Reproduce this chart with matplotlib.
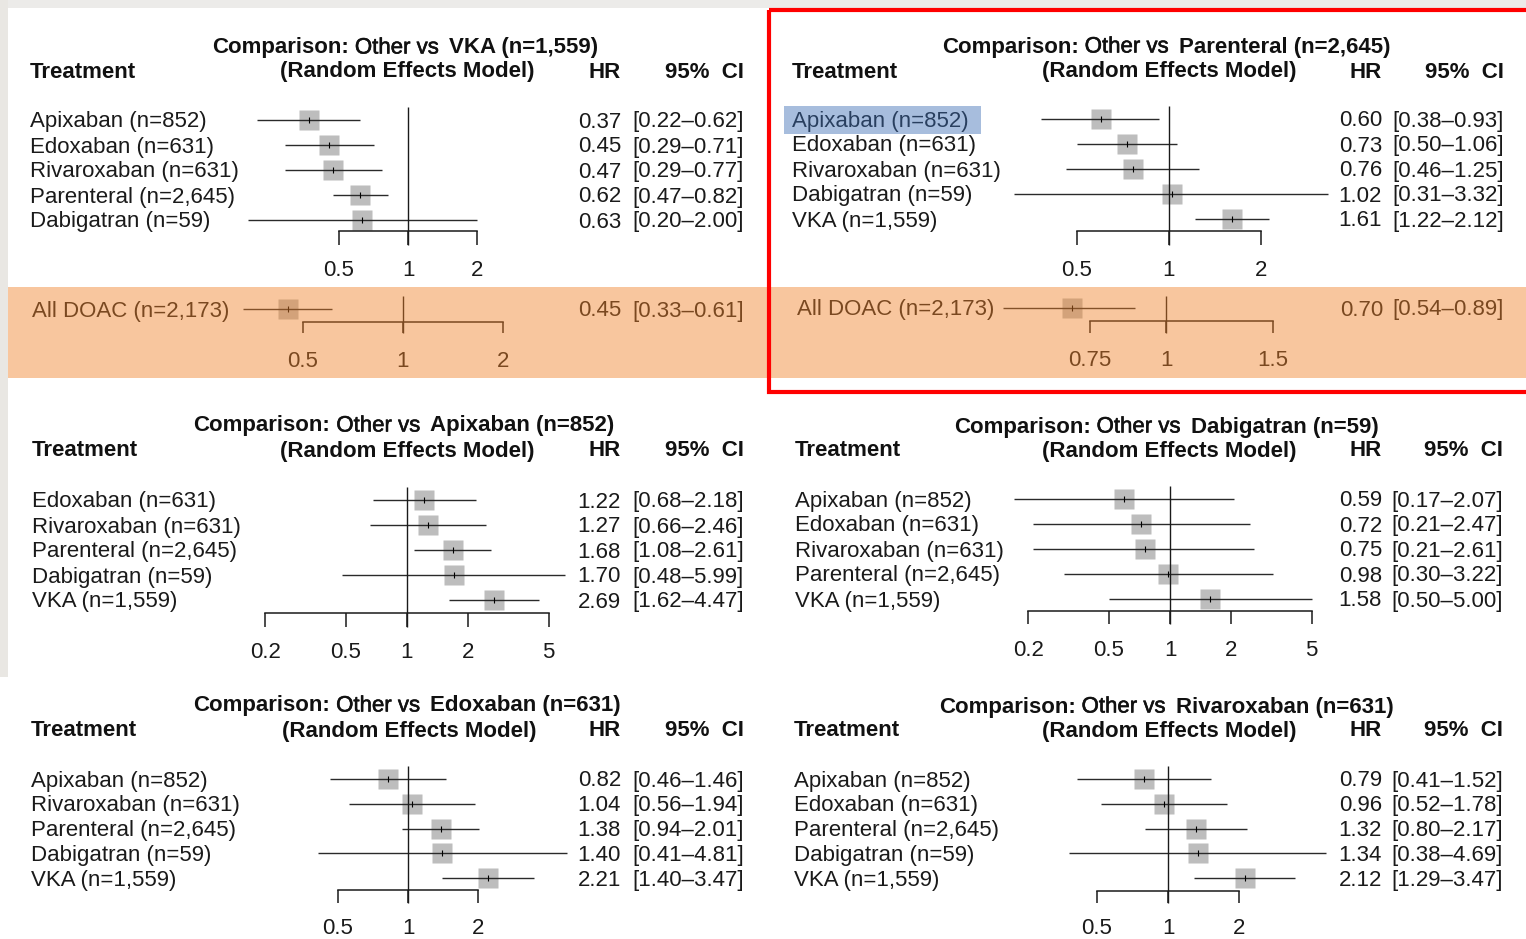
import matplotlib
matplotlib.use('Agg')
import numpy as np
import matplotlib.pyplot as plt
import matplotlib.patches as patches
import matplotlib.patheffects as pe
from matplotlib.ticker import NullLocator

W, H = 1526, 939
plt.rcParams['font.family'] = ['Liberation Sans', 'DejaVu Sans']

# ---- data (hazard ratios, 95% CI) ----
vka_ref = 'VKA (n=1,559)'
vka_labels = ['Apixaban (n=852)', 'Edoxaban (n=631)', 'Rivaroxaban (n=631)', 'Parenteral (n=2,645)', 'Dabigatran (n=59)']
vka_hr = [0.37, 0.45, 0.47, 0.62, 0.63]
vka_lo = [0.22, 0.29, 0.29, 0.47, 0.20]
vka_hi = [0.62, 0.71, 0.77, 0.82, 2.00]
vka_ticks = [0.5, 1, 2]

par_ref = 'Parenteral (n=2,645)'
par_labels = ['Apixaban (n=852)', 'Edoxaban (n=631)', 'Rivaroxaban (n=631)', 'Dabigatran (n=59)', 'VKA (n=1,559)']
par_hr = [0.60, 0.73, 0.76, 1.02, 1.61]
par_lo = [0.38, 0.50, 0.46, 0.31, 1.22]
par_hi = [0.93, 1.06, 1.25, 3.32, 2.12]
par_ticks = [0.5, 1, 2]

api_ref = 'Apixaban (n=852)'
api_labels = ['Edoxaban (n=631)', 'Rivaroxaban (n=631)', 'Parenteral (n=2,645)', 'Dabigatran (n=59)', 'VKA (n=1,559)']
api_hr = [1.22, 1.27, 1.68, 1.70, 2.69]
api_lo = [0.68, 0.66, 1.08, 0.48, 1.62]
api_hi = [2.18, 2.46, 2.61, 5.99, 4.47]
api_ticks = [0.2, 0.5, 1, 2, 5]

dab_ref = 'Dabigatran (n=59)'
dab_labels = ['Apixaban (n=852)', 'Edoxaban (n=631)', 'Rivaroxaban (n=631)', 'Parenteral (n=2,645)', 'VKA (n=1,559)']
dab_hr = [0.59, 0.72, 0.75, 0.98, 1.58]
dab_lo = [0.17, 0.21, 0.21, 0.30, 0.50]
dab_hi = [2.07, 2.47, 2.61, 3.22, 5.00]
dab_ticks = [0.2, 0.5, 1, 2, 5]

edo_ref = 'Edoxaban (n=631)'
edo_labels = ['Apixaban (n=852)', 'Rivaroxaban (n=631)', 'Parenteral (n=2,645)', 'Dabigatran (n=59)', 'VKA (n=1,559)']
edo_hr = [0.82, 1.04, 1.38, 1.40, 2.21]
edo_lo = [0.46, 0.56, 0.94, 0.41, 1.40]
edo_hi = [1.46, 1.94, 2.01, 4.81, 3.47]
edo_ticks = [0.5, 1, 2]

riv_ref = 'Rivaroxaban (n=631)'
riv_labels = ['Apixaban (n=852)', 'Edoxaban (n=631)', 'Parenteral (n=2,645)', 'Dabigatran (n=59)', 'VKA (n=1,559)']
riv_hr = [0.79, 0.96, 1.32, 1.34, 2.12]
riv_lo = [0.41, 0.52, 0.80, 0.38, 1.29]
riv_hi = [1.52, 1.78, 2.17, 4.69, 3.47]
riv_ticks = [0.5, 1, 2]

doac_label = 'All DOAC (n=2,173)'
doac_hr = [0.45, 0.70]
doac_lo = [0.33, 0.54]
doac_hi = [0.61, 0.89]
doac_ticks = [[0.5, 1, 2], [0.75, 1, 1.5]]

FS = 16
TXT = '#1a1a1a'
DY = 2  # vertical nudge of text (px)

fig = plt.figure(figsize=(W / 100, H / 100), dpi=100)
fig.patch.set_facecolor('white')
bg = fig.add_axes([0, 0, 1, 1], zorder=-1)
bg.set_xlim(0, W)
bg.set_ylim(H, 0)
bg.axis('off')
# screenshot edges
bg.add_patch(patches.Rectangle((0, 0), W, 8, color='#ecebe9', lw=0))
bg.add_patch(patches.Rectangle((0, 0), 8, 677, color='#e9e7e3', lw=0))

renderer = fig.canvas.get_renderer()


def tick_str(t):
    return ('%g' % t)


def make_ax(c, k, y0, dy, ytop, ybot, half=210):
    xl, xr = c - half, c + half
    ax = fig.add_axes([xl / W, 1 - ybot / H, (xr - xl) / W, (ybot - ytop) / H], zorder=0)
    ax.set_xscale('log', base=2)
    ax.set_xlim(2 ** ((xl - c) / k), 2 ** ((xr - c) / k))
    ax.set_ylim((ybot - y0) / dy, (ytop - y0) / dy)
    ax.patch.set_visible(False)
    for s in ['top', 'right', 'left']:
        ax.spines[s].set_visible(False)
    ax.yaxis.set_visible(False)
    return ax


def forest(ax, hr, lo, hi, ticks, y0, dy, ref_top, bracket, tick_end, lab, sq=14.4):
    idx = np.arange(len(hr))
    ax.plot(hr, idx, 's', ms=sq, color='#bdbdbd', mec='none', zorder=2)
    ax.hlines(idx, lo, hi, color='#2a2a2a', lw=1.0, zorder=3)
    ax.plot(hr, idx, '|', ms=5, mew=0.8, color='k', zorder=4)
    ax.vlines(1, (ref_top - y0) / dy, (tick_end - y0) / dy, color='#1a1a1a', lw=1.0, zorder=3)
    sp = ax.spines['bottom']
    sp.set_position(('data', (bracket - y0) / dy))
    sp.set_bounds(ticks[0], ticks[-1])
    sp.set_linewidth(1.1)
    sp.set_color('#1a1a1a')
    ax.set_xticks(ticks)
    ax.set_xticklabels([tick_str(t) for t in ticks])
    ax.xaxis.set_minor_locator(NullLocator())
    pad_px = lab - tick_end - 8.7
    ax.tick_params(axis='x', direction='out', length=(tick_end - bracket) * 0.72,
                   width=1.1, color='#1a1a1a', labelsize=FS, labelcolor=TXT, pad=pad_px * 0.72)


def title(cx, y, ref):
    parts = [('Comparison:', 'bold'), ('Other vs', 'normal'), (ref, 'bold')]
    gaps = [6, 10]
    ts = [bg.text(0, y + DY, s, fontsize=FS, fontweight=w, color='#111111', va='center', ha='left')
          for s, w in parts]
    ts[1].set_path_effects([pe.withStroke(linewidth=0.4, foreground='#111111')])
    widths = [t.get_window_extent(renderer).width for t in ts]
    total = sum(widths) + sum(gaps)
    x = cx - total / 2
    for i, t in enumerate(ts):
        t.set_x(x)
        x += widths[i] + (gaps[i] if i < len(gaps) else 0)


def txt(x, y, s, **kw):
    kw.setdefault('color', TXT)
    return bg.text(x, y + DY, s, fontsize=FS, va='center', **kw)


panels = [
    (vka_labels, vka_hr, vka_lo, vka_hi, vka_ticks, vka_ref,
     dict(c=408, k=69, y0=120, dy=25, ref_top=107, bracket=231, tick_end=245, lab=269,
          left=30, tc=405, ty=46, hy=70, rem=535, hr_r=621, ci_r=744)),
    (par_labels, par_hr, par_lo, par_hi, par_ticks, par_ref,
     dict(c=1169, k=92, y0=119, dy=25, ref_top=106, bracket=231, tick_end=245, lab=269,
          left=792, tc=1166, ty=45, hy=70, rem=1297, hr_r=1382, ci_r=1504)),
    (api_labels, api_hr, api_lo, api_hi, api_ticks, api_ref,
     dict(c=407, k=61, y0=500, dy=25, ref_top=487, bracket=613, tick_end=627, lab=651,
          left=32, tc=404, ty=424, hy=449, rem=535, hr_r=621, ci_r=744)),
    (dab_labels, dab_hr, dab_lo, dab_hi, dab_ticks, dab_ref,
     dict(c=1170, k=61, y0=499, dy=25, ref_top=486, bracket=611, tick_end=624, lab=649,
          left=795, tc=1166, ty=425, hy=449, rem=1297, hr_r=1382, ci_r=1503)),
    (edo_labels, edo_hr, edo_lo, edo_hi, edo_ticks, edo_ref,
     dict(c=408, k=70, y0=779, dy=24.8, ref_top=766, bracket=890, tick_end=903, lab=927,
          left=31, tc=407, ty=704, hy=729, rem=536, hr_r=621, ci_r=744)),
    (riv_labels, riv_hr, riv_lo, riv_hi, riv_ticks, riv_ref,
     dict(c=1168, k=71, y0=779, dy=24.8, ref_top=766, bracket=891, tick_end=903, lab=927,
          left=794, tc=1166, ty=705, hy=729, rem=1297, hr_r=1382, ci_r=1503)),
]

for labels, hr, lo, hi, ticks, ref, L in panels:
    ax = make_ax(L['c'], L['k'], L['y0'], L['dy'], L['ref_top'] - 10, L['tick_end'] + 10)
    forest(ax, hr, lo, hi, ticks, L['y0'], L['dy'], L['ref_top'], L['bracket'], L['tick_end'], L['lab'])
    title(L['tc'], L['ty'], ref)
    txt(L['left'], L['hy'], 'Treatment', fontweight='bold', color='#111111')
    txt(L['rem'], L['hy'], '(Random Effects Model)', fontweight='bold', color='#111111', ha='right')
    txt(L['hr_r'], L['hy'], 'HR', fontweight='bold', color='#111111', ha='right')
    txt(L['ci_r'], L['hy'], '95%  CI', fontweight='bold', color='#111111', ha='right')
    for i, lab in enumerate(labels):
        y = L['y0'] + i * L['dy']
        txt(L['left'], y, lab)
        txt(L['hr_r'], y, '%.2f' % hr[i], ha='right')
        txt(L['ci_r'], y, '[%.2f\u2013%.2f]' % (lo[i], hi[i]), ha='right')

# All DOAC rows
doac_lay = [
    dict(c=403, k=100, y0=309, ref_top=296, bracket=322, tick_end=333, lab=360, left=32, hr_r=621, ci_r=744),
    dict(c=1166, k=183, y0=308, ref_top=296, bracket=321, tick_end=333, lab=359, left=797, hr_r=1383, ci_r=1504),
]
for j, L in enumerate(doac_lay):
    ax = make_ax(L['c'], L['k'], L['y0'], 25, L['ref_top'] - 10, L['tick_end'] + 10)
    forest(ax, [doac_hr[j]], [doac_lo[j]], [doac_hi[j]], doac_ticks[j], L['y0'], 25,
           L['ref_top'], L['bracket'], L['tick_end'], L['lab'])
    txt(L['left'], L['y0'], doac_label)
    txt(L['hr_r'], L['y0'], '%.2f' % doac_hr[j], ha='right')
    txt(L['ci_r'], L['y0'], '[%.2f\u2013%.2f]' % (doac_lo[j], doac_hi[j]), ha='right')

# highlight overlays
fig.add_artist(patches.Rectangle((8, 287), W - 8, 91, transform=bg.transData,
                                 facecolor=(0.94, 0.51, 0.16), alpha=0.45, lw=0, zorder=5))
fig.add_artist(patches.Rectangle((784, 106), 197, 28, transform=bg.transData,
                                 facecolor=(0.24, 0.43, 0.71), alpha=0.45, lw=0, zorder=5))
fig.add_artist(patches.Rectangle((769, 10), 770, 382, transform=bg.transData,
                                 facecolor='none', edgecolor='#ff0000', lw=3, zorder=6))

fig.savefig('out.png', dpi=100)
plt.close()
